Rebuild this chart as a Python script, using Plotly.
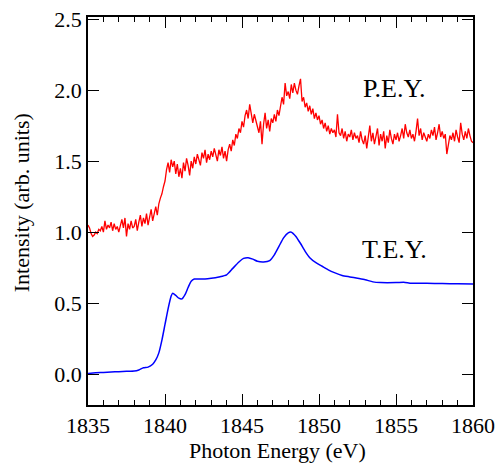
import plotly.graph_objects as go

# P.E.Y. (red, noisy) sampled every 0.1 eV from 1835.0 to 1860.0
pey_start = 1835.0
pey_step = 0.1
pey_values = [
    1.05, 1.03, 0.99, 0.97, 0.98, 1.00, 0.99, 1.02, 1.01, 1.04,
    1.00, 1.08, 1.02, 1.05, 1.03, 1.07, 1.01, 1.06, 1.02, 1.04,
    1.00, 1.05, 1.09, 1.03, 1.10, 0.97, 1.06, 1.02, 1.08, 1.03,
    1.04, 1.09, 1.01, 1.07, 1.12, 1.04, 1.10, 1.06, 1.13, 1.05,
    1.11, 1.16, 1.08, 1.14, 1.18, 1.12, 1.20, 1.24, 1.27, 1.32,
    1.36, 1.44, 1.49, 1.42, 1.51, 1.46, 1.50, 1.41, 1.48, 1.39,
    1.45, 1.38, 1.49, 1.43, 1.52, 1.47, 1.40, 1.50, 1.45, 1.53,
    1.48, 1.55, 1.50, 1.47, 1.56, 1.52, 1.58, 1.49, 1.55, 1.51,
    1.57, 1.53, 1.59, 1.55, 1.50, 1.58, 1.54, 1.60, 1.52, 1.57,
    1.50, 1.58, 1.62, 1.57, 1.65, 1.61, 1.69, 1.66, 1.73, 1.70,
    1.78, 1.74, 1.82, 1.86, 1.80, 1.90, 1.84, 1.77, 1.83, 1.79,
    1.75, 1.70, 1.78, 1.62, 1.76, 1.84, 1.73, 1.79, 1.71, 1.80,
    1.77, 1.83, 1.78, 1.86, 1.82, 1.88, 1.95, 1.90, 2.05, 1.96,
    1.99, 1.94, 2.04, 1.98, 2.05, 2.00, 1.97, 2.03, 2.08, 1.92,
    1.95, 1.88, 1.91, 1.85, 1.89, 1.83, 1.87, 1.80, 1.84, 1.79,
    1.82, 1.76, 1.79, 1.73, 1.77, 1.71, 1.75, 1.69, 1.73, 1.70,
    1.72, 1.67, 1.83, 1.70, 1.68, 1.73, 1.66, 1.71, 1.64, 1.69,
    1.67, 1.72, 1.65, 1.70, 1.66, 1.68, 1.63, 1.71, 1.65, 1.62,
    1.68, 1.59, 1.66, 1.75, 1.64, 1.70, 1.62, 1.67, 1.73, 1.61,
    1.69, 1.64, 1.71, 1.59, 1.68, 1.63, 1.72, 1.66, 1.62, 1.69,
    1.65, 1.70, 1.64, 1.68, 1.73, 1.66, 1.76, 1.70, 1.67, 1.72,
    1.66, 1.69, 1.64, 1.71, 1.80, 1.68, 1.73, 1.65, 1.70, 1.67,
    1.64, 1.69, 1.66, 1.72, 1.68, 1.74, 1.65, 1.70, 1.76, 1.67,
    1.71, 1.66, 1.69, 1.55, 1.63, 1.68, 1.65, 1.70, 1.64, 1.72,
    1.67, 1.63, 1.77, 1.69, 1.65, 1.71, 1.66, 1.73, 1.68, 1.64,
    1.63,
]
pey_energy = [round(pey_start + i * pey_step, 2) for i in range(len(pey_values))]

# T.E.Y. (blue, smooth)
tey_energy = [
    1835.0, 1835.5, 1836.0, 1836.5, 1837.0, 1837.5, 1838.0, 1838.3, 1838.6, 1838.9,
    1839.2, 1839.4, 1839.6, 1839.8, 1840.0, 1840.2, 1840.4, 1840.5, 1840.7, 1840.9,
    1841.1, 1841.3, 1841.5, 1841.7, 1841.9, 1842.2, 1842.6, 1843.0, 1843.5, 1844.0,
    1844.4, 1844.8, 1845.1, 1845.4, 1845.7, 1846.0, 1846.4, 1846.8, 1847.1, 1847.4,
    1847.7, 1848.0, 1848.2, 1848.5, 1848.8, 1849.1, 1849.4, 1849.8, 1850.2, 1850.6,
    1851.0, 1851.5, 1852.0, 1852.5, 1853.0, 1853.5, 1854.0, 1855.0, 1855.5, 1856.0,
    1857.0, 1858.0, 1859.0, 1860.0,
]
tey_values = [
    0.005, 0.010, 0.012, 0.015, 0.018, 0.020, 0.022, 0.030, 0.045, 0.050,
    0.070, 0.100, 0.150, 0.240, 0.350, 0.460, 0.550, 0.570, 0.555, 0.535,
    0.530, 0.560, 0.610, 0.655, 0.670, 0.670, 0.670, 0.675, 0.685, 0.700,
    0.745, 0.790, 0.815, 0.820, 0.810, 0.795, 0.790, 0.800, 0.840, 0.900,
    0.960, 0.995, 1.000, 0.970, 0.920, 0.865, 0.820, 0.785, 0.760, 0.735,
    0.715, 0.695, 0.685, 0.675, 0.665, 0.650, 0.645, 0.645, 0.648, 0.640,
    0.640, 0.638, 0.637, 0.635,
]

x_ticks = [1835, 1840, 1845, 1850, 1855, 1860]
y_ticks = [0.0, 0.5, 1.0, 1.5, 2.0, 2.5]
y_tick_labels = ["0.0", "0.5", "1.0", "1.5", "2.0", "2.5"]
x_title = "Photon Energy (eV)"
y_title = "Intensity (arb. units)"

FONT = "Liberation Serif"
TICK_SIZE = 22
TITLE_SIZE = 22

fig = go.Figure()
fig.add_trace(go.Scatter(x=pey_energy, y=pey_values, mode="lines",
                         line=dict(color="#ff0000", width=1.3), showlegend=False))
fig.add_trace(go.Scatter(x=tey_energy, y=tey_values, mode="lines",
                         line=dict(color="#0000ff", width=1.5, shape="spline", smoothing=0.6),
                         showlegend=False))

fig.add_annotation(x=1854.9, y=2.01, text="P.E.Y.", showarrow=False,
                   font=dict(family=FONT, size=26, color="black"))
fig.add_annotation(x=1854.9, y=0.88, text="T.E.Y.", showarrow=False,
                   font=dict(family=FONT, size=26, color="black"))

# axis titles as paper-anchored text
fig.add_annotation(xref="paper", yref="paper", x=0.492, y=-0.116, text=x_title,
                   showarrow=False, xanchor="center", yanchor="middle",
                   font=dict(family=FONT, size=TITLE_SIZE, color="black"))
fig.add_annotation(xref="paper", yref="paper", x=-0.174, y=0.52, text=y_title,
                   showarrow=False, xanchor="center", yanchor="middle", textangle=-90,
                   font=dict(family=FONT, size=TITLE_SIZE, color="black"))

axis_common = dict(showline=True, linecolor="black", linewidth=1.5, mirror="allticks",
                   ticks="inside", ticklen=11, tickwidth=1.3, tickcolor="black",
                   showgrid=False, zeroline=False, automargin=False,
                   ticklabeloverflow="allow",
                   tickfont=dict(family=FONT, size=TICK_SIZE, color="black"))

fig.update_xaxes(range=[1835, 1860], tickvals=x_ticks,
                 minor=dict(ticks="inside", ticklen=5, dtick=1, tickwidth=1.2, tickcolor="black", showgrid=False),
                 **axis_common)
fig.update_yaxes(range=[-0.217, 2.515], tickvals=y_ticks, ticktext=y_tick_labels,
                 **axis_common)

fig.update_layout(width=495, height=468, margin=dict(l=88, r=22, t=17, b=63),
                  plot_bgcolor="white", paper_bgcolor="white",
                  font=dict(family=FONT, color="black"))

fig.write_html("out.html", config={"displayModeBar": False},
               post_script="document.body.style.margin='0';")
